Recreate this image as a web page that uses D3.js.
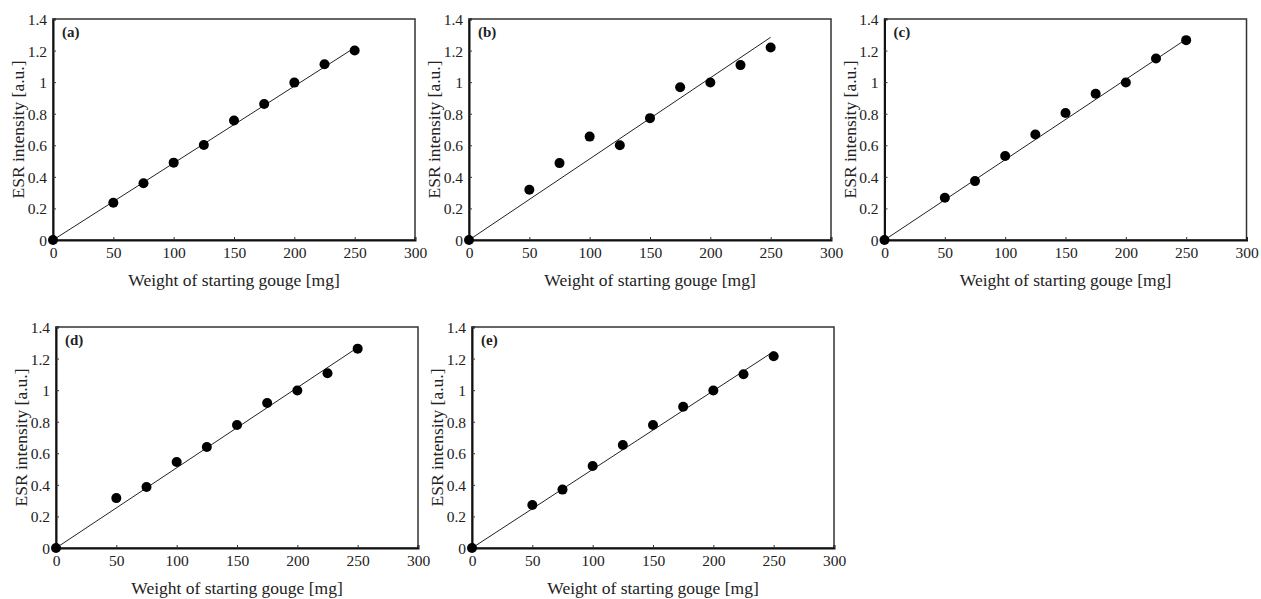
<!DOCTYPE html>
<html>
<head>
<meta charset="utf-8">
<script src="https://cdn.jsdelivr.net/npm/d3@7"></script>
<style>
  body { margin: 0; background: #fff; }
</style>
</head>
<body>
<div id="chart"></div>
<script>
// values
var weights = [0, 50, 75, 100, 125, 150, 175, 200, 225, 250];
var esrA = [0, 0.236, 0.36, 0.49, 0.602, 0.757, 0.862, 0.997, 1.113, 1.2];
var esrB = [0, 0.318, 0.487, 0.655, 0.6, 0.772, 0.968, 0.998, 1.108, 1.22];
var esrC = [0, 0.268, 0.373, 0.532, 0.668, 0.804, 0.926, 0.998, 1.15, 1.266];
var esrD = [0, 0.316, 0.386, 0.545, 0.64, 0.779, 0.918, 0.998, 1.107, 1.263];
var esrE = [0, 0.272, 0.37, 0.52, 0.653, 0.779, 0.895, 0.998, 1.101, 1.215];
// fitted line end points [weight, intensity]
var fitA = [[0, 0], [250, 1.218]];
var fitB = [[0, 0], [250, 1.284]];
var fitC = [[0, 0], [250, 1.272]];
var fitD = [[0, 0], [250, 1.27]];
var fitE = [[0, 0], [250, 1.245]];
var panelLabels = ["(a)", "(b)", "(c)", "(d)", "(e)"];
var xTicks = [0, 50, 100, 150, 200, 250, 300];
var yTicks = [0, 0.2, 0.4, 0.6, 0.8, 1, 1.2, 1.4];

var FONT = "Liberation Serif, Times New Roman, DejaVu Serif, serif";

var svg = d3.select('#chart').append("svg")
    .attr("width", 1261)
    .attr("height", 599)
    .attr("font-family", FONT);

var panels = [
  {left: 53, top: 19, vals: esrA, fit: fitA},
  {left: 469, top: 19, vals: esrB, fit: fitB},
  {left: 884.5, top: 19, vals: esrC, fit: fitC},
  {left: 56, top: 327, vals: esrD, fit: fitD},
  {left: 472, top: 327, vals: esrE, fit: fitE}
];
var w = 362, h = 221;

panels.forEach(function (p, i) {
  var g = svg.append("g")
      .attr("transform", "translate(" + p.left + "," + p.top + ")");

  var x = d3.scaleLinear().domain([0, 300]).range([0, w]);
  var y = d3.scaleLinear().domain([0, 1.4]).range([h, 0]);

  // frame
  g.append("rect")
      .attr("width", w).attr("height", h)
      .attr("fill", "none")
      .attr("stroke", "#333")
      .attr("stroke-width", 1.5);

  // axes, ticks pointing inward
  var xAxis = d3.axisBottom(x).tickValues(xTicks).tickSize(-3).tickPadding(6)
      .tickFormat(d3.format("d"));
  var yAxis = d3.axisLeft(y).tickValues(yTicks).tickSize(-3).tickPadding(6)
      .tickFormat(function (d) { return d3.format("")(d); });

  var gx = g.append("g").attr("transform", "translate(0," + h + ")").call(xAxis);
  var gy = g.append("g").call(yAxis);
  [gx, gy].forEach(function (a) {
    a.attr("font-family", FONT).attr("font-size", 15.5);
    a.select(".domain").attr("stroke", "#111").attr("stroke-width", 2);
    a.selectAll(".tick line").attr("stroke", "#333");
    a.selectAll("text").attr("fill", "#222");
  });
  gx.selectAll("text").attr("dy", "0.8em");
  gy.selectAll("text").attr("dy", "0.35em");

  // fit line
  var line = d3.line()
      .x(function (d) { return x(d[0]); })
      .y(function (d) { return y(d[1]); });
  g.append("path")
      .datum(p.fit)
      .attr("d", line)
      .attr("fill", "none")
      .attr("stroke", "#222")
      .attr("stroke-width", 1);

  // points
  g.selectAll(".dot")
      .data(weights)
      .enter().append("circle")
      .attr("class", "dot")
      .attr("cx", function (d) { return x(d); })
      .attr("cy", function (d, j) { return y(p.vals[j]); })
      .attr("r", 5)
      .attr("fill", "#000");

  // labels
  g.append("text")
      .attr("x", 9).attr("y", 18)
      .attr("font-size", 15)
      .attr("font-weight", "bold")
      .attr("fill", "#222")
      .text(panelLabels[i]);

  g.append("text")
      .attr("x", w / 2).attr("y", h + 46)
      .attr("text-anchor", "middle")
      .attr("font-size", 17.5)
      .attr("fill", "#222")
      .text("Weight of starting gouge [mg]");

  g.append("text")
      .attr("transform", "translate(-29," + (h / 2) + ") rotate(-90)")
      .attr("text-anchor", "middle")
      .attr("font-size", 17.5)
      .attr("fill", "#222")
      .text("ESR intensity [a.u.]");
});
</script>
</body>
</html>
